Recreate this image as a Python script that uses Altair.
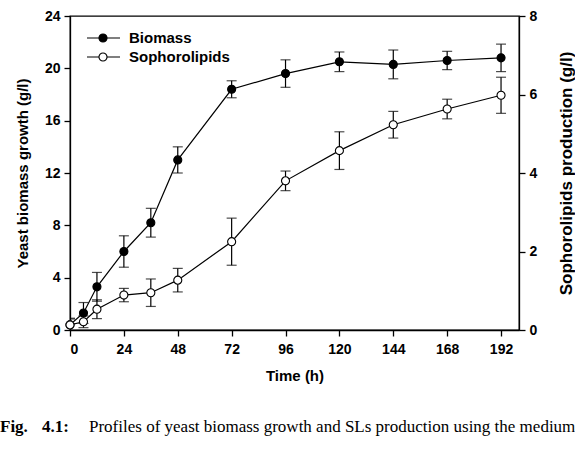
import altair as alt
import pandas as pd

# Sampling times (h)
time_h = [0, 6, 12, 24, 36, 48, 72, 96, 120, 144, 168, 192]

# Yeast biomass (g/l) and standard deviation
biomass = [0.4, 1.3, 3.3, 6.0, 8.2, 13.0, 18.4, 19.6, 20.5, 20.3, 20.6, 20.8]
biomass_sd = [0.5, 0.8, 1.1, 1.2, 1.1, 1.0, 0.65, 1.05, 0.75, 1.1, 0.7, 1.05]

# Sophorolipids (g/l) and standard deviation
soph = [0.13, 0.21, 0.53, 0.89, 0.95, 1.27, 2.25, 3.80, 4.57, 5.23, 5.63, 5.98]
soph_sd = [0.15, 0.15, 0.24, 0.17, 0.35, 0.30, 0.60, 0.25, 0.48, 0.34, 0.25, 0.46]

x_ticks = [0, 24, 48, 72, 96, 120, 144, 168, 192]

FONT = "Liberation Sans"

bio_df = pd.DataFrame({"t": time_h, "v": biomass, "sd": biomass_sd})
bio_df["lo"] = bio_df["v"] - bio_df["sd"]
bio_df["hi"] = bio_df["v"] + bio_df["sd"]

sl_df = pd.DataFrame({"t": time_h, "v": soph, "sd": soph_sd})
sl_df["lo"] = sl_df["v"] - sl_df["sd"]
sl_df["hi"] = sl_df["v"] + sl_df["sd"]

x_scale = alt.Scale(domain=[0, 200], nice=False, zero=False)
x_axis = alt.Axis(values=x_ticks, title="Time (h)", grid=False)


def series(df, y_domain, y_axis, fill):
    base = alt.Chart(df)
    y_scale = alt.Scale(domain=y_domain, nice=False)
    x = alt.X("t:Q", scale=x_scale, axis=x_axis)
    line = base.mark_line(color="black", strokeWidth=1.2).encode(
        x=x, y=alt.Y("v:Q", scale=y_scale, axis=y_axis))
    bars = base.mark_rule(color="black", strokeWidth=1.2, clip=True).encode(
        x=x, y=alt.Y("lo:Q", scale=y_scale), y2="hi:Q")
    caps_hi = base.mark_tick(color="black", orient="horizontal", size=10,
                             thickness=1.2, clip=True).encode(
        x=x, y=alt.Y("hi:Q", scale=y_scale))
    caps_lo = base.mark_tick(color="black", orient="horizontal", size=10,
                             thickness=1.2, clip=True).encode(
        x=x, y=alt.Y("lo:Q", scale=y_scale))
    pts = base.mark_point(shape="circle", filled=True, fill=fill, stroke="black",
                          strokeWidth=1.1, size=65, opacity=1).encode(
        x=x, y=alt.Y("v:Q", scale=y_scale))
    return alt.layer(line, bars, caps_hi, caps_lo, pts)


left_axis = alt.Axis(values=[0, 4, 8, 12, 16, 20, 24], orient="left",
                     title="Yeast biomass growth (g/l)", grid=False,
                     titleAngle=270, titleBaseline="bottom", titlePadding=14,
                     titleFontSize=15)
right_axis = alt.Axis(values=[0, 2, 4, 6, 8], orient="right",
                      title="Sophorolipids production (g/l)", grid=False,
                      titleAngle=270, titleBaseline="top", titlePadding=22,
                      titleFontSize=17)

bio_layer = series(bio_df, [0, 24], left_axis, "black")
sl_layer = series(sl_df, [0, 8], right_axis, "white")

# Legend drawn inside the plot area
legend_labels = ["Biomass", "Sophorolipids"]
legend_fills = ["black", "white"]
legend_rows = [22, 41]
legend_src = alt.Chart(pd.DataFrame({"k": [0]}))
legend_layers = []
for lab, fill, ly in zip(legend_labels, legend_fills, legend_rows):
    legend_layers.append(legend_src.mark_rule(color="black", strokeWidth=1.2).encode(
        x=alt.value(17), x2=alt.value(50), y=alt.value(ly)))
    legend_layers.append(legend_src.mark_point(shape="circle", filled=True, fill=fill,
                                               stroke="black", strokeWidth=1.1,
                                               size=65, opacity=1).encode(
        x=alt.value(33), y=alt.value(ly)))
    legend_layers.append(legend_src.mark_text(align="left", baseline="middle",
                                              font=FONT, fontSize=15, fontWeight="bold",
                                              text=lab).encode(
        x=alt.value(59), y=alt.value(ly)))

# Figure caption below the chart
CAP_Y = 411
cap_parts = [
    ("Fig.", -70, "bold"),
    ("4.1:", -28, "bold"),
    ("Profiles  of  yeast  biomass  growth  and  SLs  production  using  the  medium", 19, "normal"),
]
cap_layers = [
    legend_src.mark_text(align="left", baseline="middle", font="Liberation Serif",
                         fontSize=17, fontWeight=w, text=txt).encode(
        x=alt.value(px), y=alt.value(CAP_Y))
    for txt, px, w in cap_parts
]

main = alt.layer(bio_layer, sl_layer).resolve_scale(y="independent")

chart = alt.layer(main, *legend_layers, *cap_layers).properties(
    width=449,
    height=314,
    background="white",
    padding={"left": 70, "top": 16, "right": 56, "bottom": 123},
    autosize=alt.AutoSizeParams(type="none"),
).configure_view(
    stroke="black", strokeWidth=1.3
).configure_axis(
    domainColor="black", domainWidth=1.3, tickColor="black", tickWidth=1.3,
    tickSize=6, labelFont=FONT, labelFontSize=14, labelFontWeight="bold",
    labelColor="black", titleFont=FONT, titleFontSize=15, titleFontWeight="bold",
    titleColor="black", labelPadding=4
).configure_axisBottom(
    titlePadding=12, labelPadding=6
)

chart.save("out.html", embed_options={"renderer": "svg", "actions": False})
